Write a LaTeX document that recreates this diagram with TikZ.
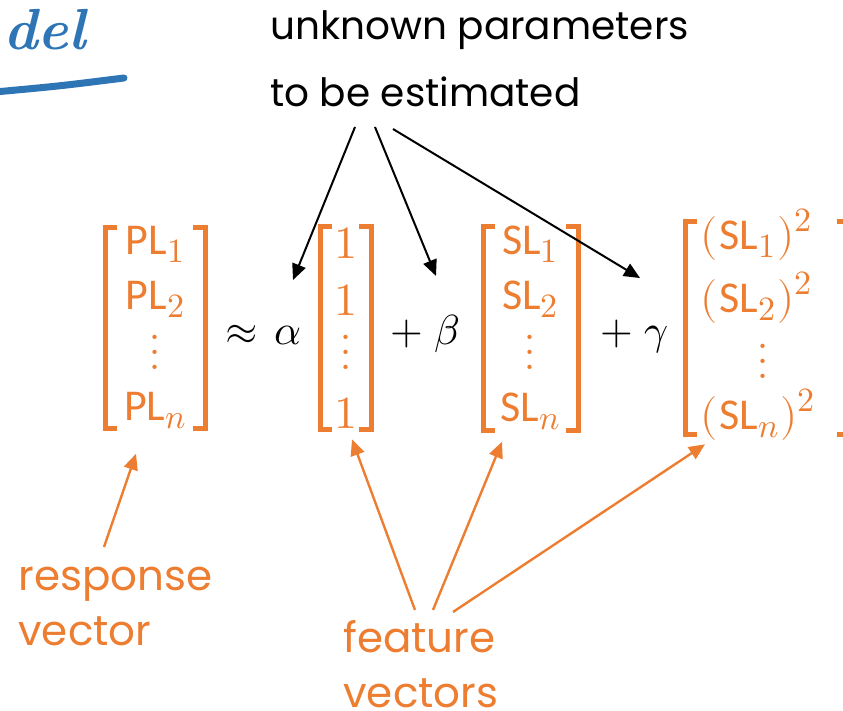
\documentclass[tikz,border=0pt]{standalone}
\usepackage{amsmath}
\usepackage{fontspec}
\usepackage{unicode-math}
\newfontfamily\handf{Poppins}
\newfontfamily\entf{Carlito}
\usetikzlibrary{arrows.meta,positioning,calc}
\definecolor{orng}{HTML}{ED7D31}
\definecolor{pen}{HTML}{2E75B6}
\newcommand{\vdts}{\vbox{\fontsize{26}{26}\selectfont\baselineskip=7.5pt\lineskiplimit=0pt\hbox{.}\hbox{.}\hbox{.}}}
\newcommand{\sbb}[1]{\raisebox{-4pt}{\fontsize{17}{17}\selectfont$#1$}}
\newcommand{\spp}[1]{\raisebox{9pt}{\fontsize{17}{17}\selectfont$#1$}}

\begin{document}
\begin{tikzpicture}[x=0.5pt,y=-0.5pt,
  hd/.style={font=\handf\fontsize{19.5}{33.5}\selectfont,align=left,inner sep=0pt,anchor=north west},
  ohd/.style={hd,text=orng,font=\handf\fontsize{21}{27.5}\selectfont},
  ent/.style={text=orng,font=\fontsize{22}{24}\selectfont,anchor=base,inner sep=0pt},
  op/.style={font=\fontsize{21}{24}\selectfont,anchor=base,inner sep=0pt},
  brk/.style={orng,line width=2.5pt},
  ar/.style={-{Triangle[length=8pt,width=7pt]},line width=1pt},
  oar/.style={ar,orng,line width=1.2pt}
]
\useasboundingbox (0,0) rectangle (843,711);
% ---- blue heading remnant ----
\node[text=pen,font=\fontsize{29}{30}\selectfont\itshape\bfseries,anchor=base west,inner sep=0pt] (mdl) at (3,50) {del};
\draw[pen,line width=3.5pt,line cap=round] (-5,92) .. controls (60,86) .. (124,78);
% ---- labels ----
\node[hd] (title) at (270,10) {unknown parameters\\to be estimated};
\node[ohd] (resp) at (18,567) {response\\vector};
\node[ohd] (feat) at (343,620) {feature\\vectors};
% ---- brackets ----
\foreach \l/\r/\t/\b in {105/205/228/429, 320/371/227/430, 483/578/227/431, 685/849/222/435}{
  \draw[brk] (\l+12,\t) -- (\l,\t) -- (\l,\b) -- (\l+12,\b);
  \draw[brk] (\r-12,\t) -- (\r,\t) -- (\r,\b) -- (\r-12,\b);
}
% response vector
\node[ent] (pl1) at (155,255) {{\entf PL}\sbb{1}};
\node[ent] (pl2) at (155,310) {{\entf PL}\sbb{2}};
\node[ent,anchor=center] (pld) at (155,352) {\vdts};
\node[ent] (pln) at (155,421) {{\entf PL}\sbb{n}};
% ones
\node[ent,font=\fontsize{23}{24}\selectfont] (on1) at (346,259) {$1$};
\node[ent,font=\fontsize{23}{24}\selectfont] (on2) at (346,316) {$1$};
\node[ent,anchor=center] (ond) at (346,352) {\vdts};
\node[ent,font=\fontsize{23}{24}\selectfont] (onn) at (346,429) {$1$};
% sepal length
\node[ent] (sl1) at (530,255) {{\entf SL}\sbb{1}};
\node[ent] (sl2) at (530,310) {{\entf SL}\sbb{2}};
\node[ent,anchor=center] (sld) at (530,352) {\vdts};
\node[ent] (sln) at (530,422) {{\entf SL}\sbb{n}};
% squares
\node[ent,anchor=base west] (sq1) at (700,250) {$($\kern1pt{\entf SL}\sbb{1}\kern1pt$)$\spp{2}};
\node[ent,anchor=base west] (sq2) at (700,313) {$($\kern1pt{\entf SL}\sbb{2}\kern1pt$)$\spp{2}};
\node[ent,anchor=center] (sqd) at (763,361) {\vdts};
\node[ent,anchor=base west] (sqn) at (700,430) {$($\kern1pt{\entf SL}\sbb{n}\kern1pt$)$\spp{2}};
% ---- operators ----
\node[op] (apx) at (242,345) {$\approx$};
\node[op] (alpha) at (288,345) {$\alpha$};
\node[op] (pl) at (407,345) {$+$};
\node[op] (beta) at (447,345) {$\beta$};
\node[op] (pg) at (617,345) {$+$};
\node[op] (gamma) at (656,345) {$\gamma$};
% ---- black arrows ----
\draw[ar] ([shift={(85,20)}]title.south west) -- ([shift={(5,-46)}]alpha.north);
\draw[ar] ([shift={(105,20)}]title.south west) -- ([shift={(-11,-39)}]beta.north);
\draw[ar] ([shift={(123,22)}]title.south west) -- ([shift={(-16,-48)}]gamma.north);
% ---- orange arrows ----
\draw[oar] ([shift={(86,-20)}]resp.north west) -- ([shift={(-19,24)}]pln.south);
\draw[oar] ([shift={(72,-10)}]feat.north west) -- ([shift={(6,10)}]onn.south);
\draw[oar] ([shift={(90,-10)}]feat.north west) -- ([shift={(-28,11)}]sln.south);
\draw[oar] ([shift={(110,-8)}]feat.north west) -- ([shift={(5,3)}]sqn.south west);
\end{tikzpicture}
\end{document}
